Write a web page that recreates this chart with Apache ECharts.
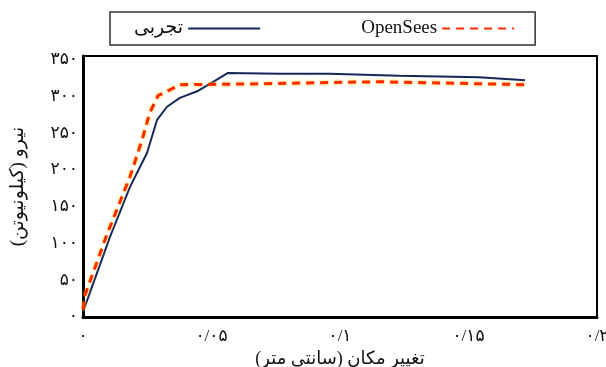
<!DOCTYPE html>
<html>
<head>
<meta charset="utf-8">
<script src="https://cdn.jsdelivr.net/npm/echarts@6/dist/echarts.min.js"></script>
<style>
  html, body { margin: 0; padding: 0; background: #fff; }
  #chart { width: 606px; height: 367px; }
</style>
</head>
<body>
<div id="chart"></div>
<script>
// experimental curve (displacement cm, force kN)
const testX = [0, 0.0105, 0.0183, 0.0249, 0.0288, 0.0327, 0.0377, 0.0444, 0.0521, 0.0564, 0.0767, 0.096, 0.123, 0.154, 0.172]
const testY = [7, 109, 177, 223, 268, 286, 298, 307, 323, 332, 331, 331, 328, 326, 322]

// OpenSees model
const simX = [0, 0.0008, 0.0093, 0.0183, 0.023, 0.026, 0.0292, 0.0338, 0.0377, 0.065, 0.115, 0.172]
const simY = [10, 30, 112, 191, 241, 278, 301, 309, 316, 317, 320, 316]

const xTickLabels = ['۰', '۰/۰۵', '۰/۱', '۰/۱۵', '۰/۲']
const yTickLabels = ['۰', '۵۰', '۱۰۰', '۱۵۰', '۲۰۰', '۲۵۰', '۳۰۰', '۳۵۰']

const seriesNames = ['تجربی', 'OpenSees']

const font = "'Liberation Serif', 'DejaVu Sans', serif"

function pairs (xs, ys) {
  return xs.map((x, i) => [x, ys[i]])
}

const chart = echarts.init(document.getElementById('chart'))
chart.setOption({
  animation: false,
  grid: {
    left: 83,
    right: 9,
    top: 56,
    bottom: 50,
    show: true,
    borderColor: '#000',
    borderWidth: 2,
    containLabel: false,
    outerBoundsMode: 'none'
  },
  legend: {
    data: seriesNames,
    left: 110,
    top: 12,
    align: 'right',
    itemGap: 100,
    itemWidth: 72,
    itemHeight: 12,
    padding: [7, 20, 7, 24],
    borderColor: '#333',
    borderWidth: 1.5,
    itemStyle: { opacity: 0 },
    textStyle: { fontFamily: font, fontSize: 19, color: '#111' }
  },
  xAxis: {
    type: 'value',
    min: 0,
    max: 0.2,
    interval: 0.05,
    name: 'تغییر مکان (سانتی متر)',
    nameLocation: 'middle',
    nameGap: 31,
    nameTextStyle: { fontFamily: font, fontSize: 18, color: '#111' },
    axisLine: { show: true, lineStyle: { color: '#000', width: 3 } },
    axisTick: { show: false },
    splitLine: { show: false },
    axisLabel: {
      margin: 11,
      fontFamily: font,
      fontSize: 17,
      color: '#111',
      formatter: v => xTickLabels[Math.round(v / 0.05)]
    }
  },
  yAxis: {
    type: 'value',
    min: 0,
    max: 355,
    interval: 50,
    name: 'نیرو (کیلونیوتن)',
    nameLocation: 'middle',
    nameGap: 55,
    nameRotate: 90,
    nameTextStyle: { fontFamily: font, fontSize: 19, color: '#111' },
    axisLine: { show: true, lineStyle: { color: '#000', width: 3 } },
    axisTick: { show: false },
    splitLine: { show: false },
    axisLabel: {
      margin: 5,
      fontFamily: font,
      fontSize: 17,
      color: '#111',
      formatter: v => (v % 50 === 0 ? yTickLabels[v / 50] : '')
    }
  },
  series: [
    {
      name: seriesNames[0],
      type: 'line',
      data: pairs(testX, testY),
      symbol: 'none',
      color: '#14285a',
      lineStyle: { color: '#14285a', width: 2 },
      z: 3
    },
    {
      name: seriesNames[1],
      type: 'line',
      data: pairs(simX, simY),
      symbol: 'none',
      color: '#ff2a00',
      lineStyle: {
        color: '#ff2a00',
        width: 3,
        type: [8, 6],
        shadowColor: '#ffd000',
        shadowBlur: 3
      },
      z: 4
    }
  ]
})
</script>
</body>
</html>
